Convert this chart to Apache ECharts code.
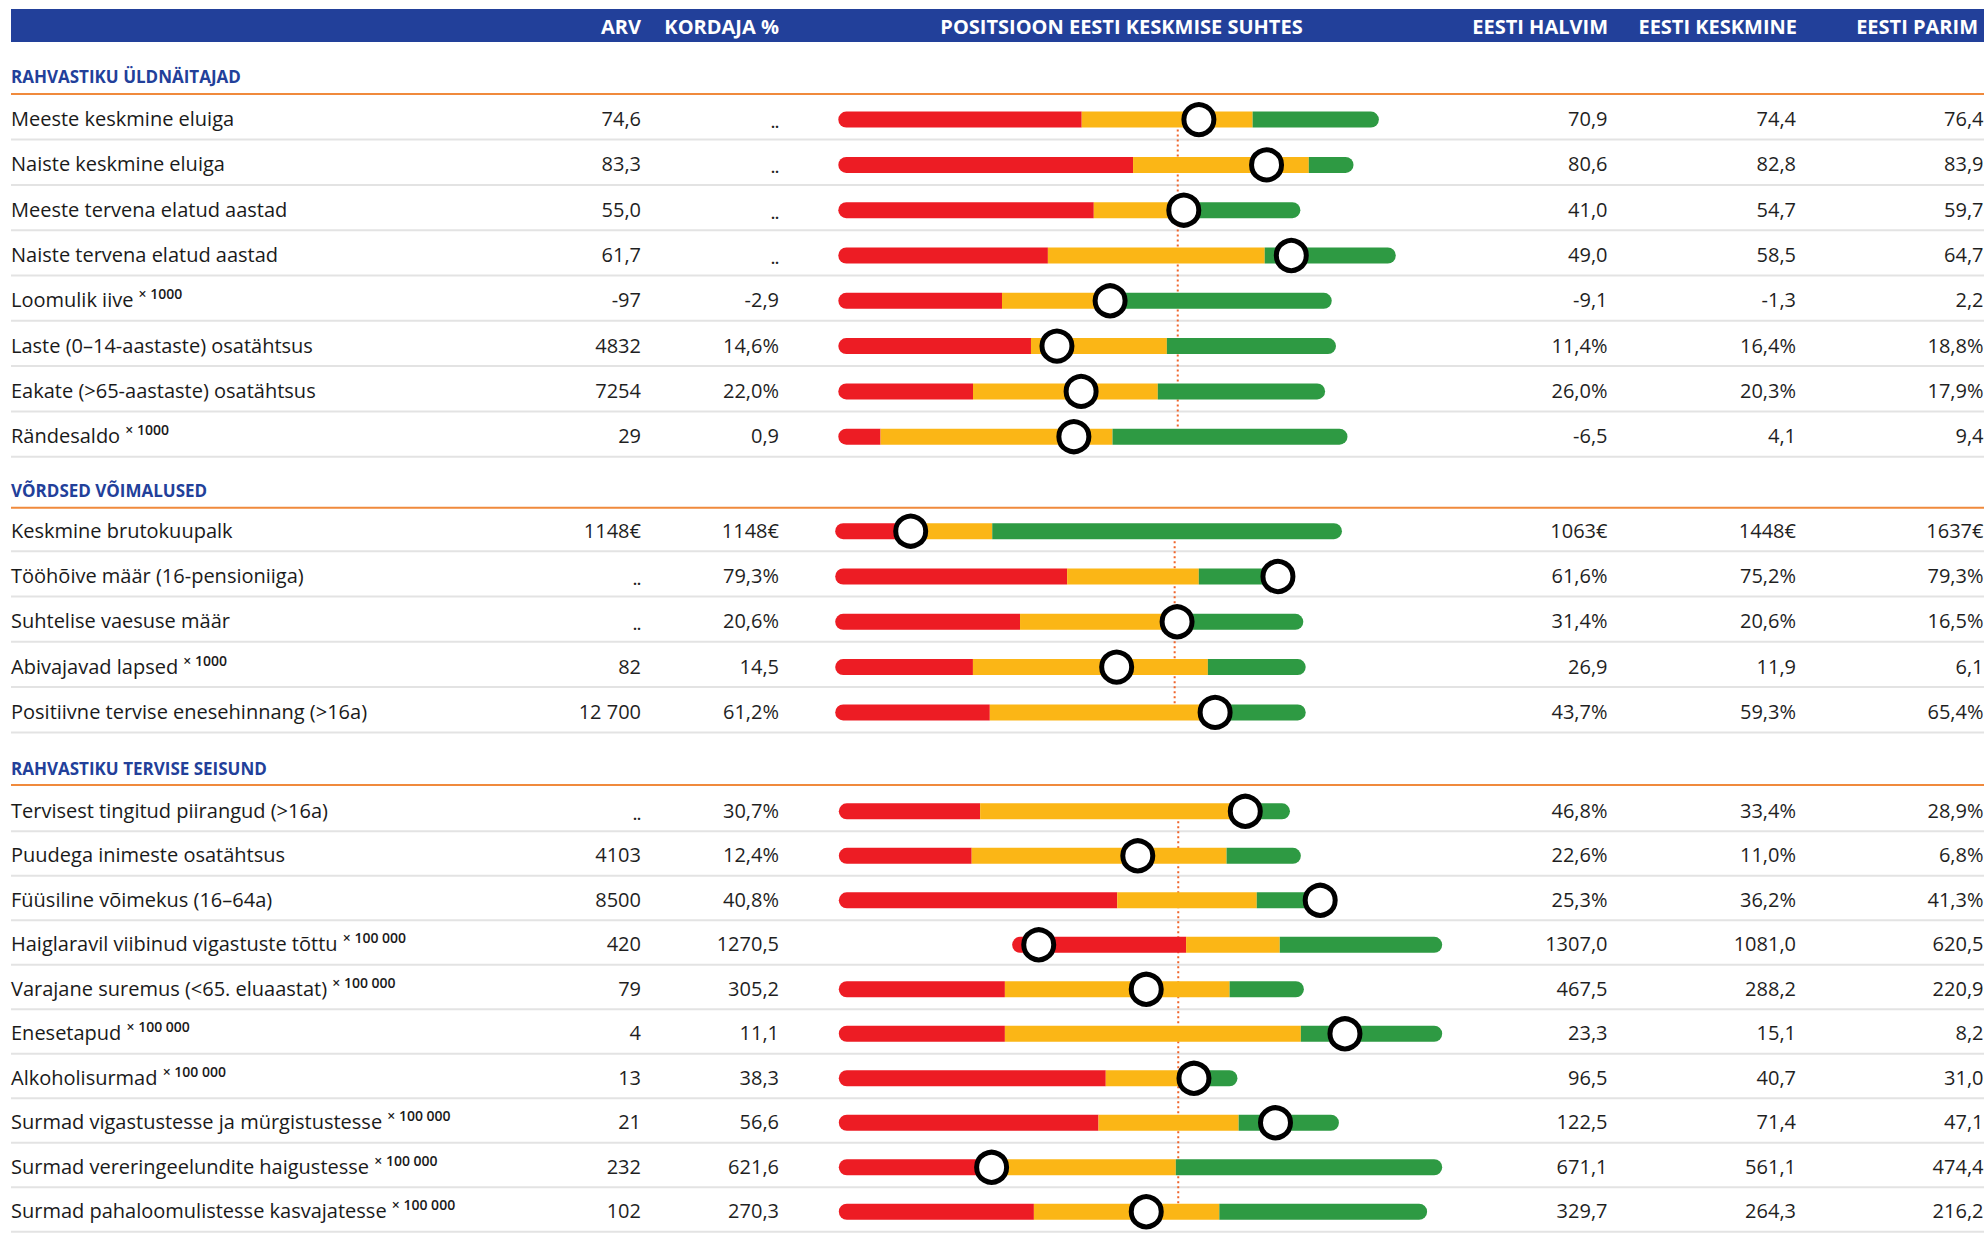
<!DOCTYPE html>
<html>
<head>
<meta charset="utf-8">
<title>Positsioon Eesti keskmise suhtes</title>
<script src="https://cdn.jsdelivr.net/npm/echarts/dist/echarts.min.js"></script>
<style>
  html, body { margin: 0; padding: 0; background: #fff; }
  #chart { width: 1986px; height: 1234px; }
</style>
</head>
<body>
<div id="chart"></div>
<script>
// ---- data ----
const sectionTitles = ['RAHVASTIKU ÜLDNÄITAJAD', 'VÕRDSED VÕIMALUSED', 'RAHVASTIKU TERVISE SEISUND'];
const sectionSizes = [8, 5, 10];

const labels = [
  'Meeste keskmine eluiga', 'Naiste keskmine eluiga', 'Meeste tervena elatud aastad',
  'Naiste tervena elatud aastad', 'Loomulik iive', 'Laste (0–14-aastaste) osatähtsus',
  'Eakate (>65-aastaste) osatähtsus', 'Rändesaldo',
  'Keskmine brutokuupalk', 'Tööhõive määr (16-pensioniiga)', 'Suhtelise vaesuse määr',
  'Abivajavad lapsed', 'Positiivne tervise enesehinnang (>16a)',
  'Tervisest tingitud piirangud (>16a)', 'Puudega inimeste osatähtsus', 'Füüsiline võimekus (16–64a)',
  'Haiglaravil viibinud vigastuste tõttu', 'Varajane suremus (<65. eluaastat)', 'Enesetapud',
  'Alkoholisurmad', 'Surmad vigastustesse ja mürgistustesse', 'Surmad vereringeelundite haigustesse',
  'Surmad pahaloomulistesse kasvajatesse'
];
const units = [
  '', '', '', '', '× 1000', '', '', '× 1000',
  '', '', '', '× 1000', '',
  '', '', '', '× 100 000', '× 100 000', '× 100 000', '× 100 000', '× 100 000', '× 100 000', '× 100 000'
];
const arv = ['74,6', '83,3', '55,0', '61,7', '-97', '4832', '7254', '29',
  '1148€', '..', '..', '82', '12 700',
  '..', '4103', '8500', '420', '79', '4', '13', '21', '232', '102'];
const kordaja = ['..', '..', '..', '..', '-2,9', '14,6%', '22,0%', '0,9',
  '1148€', '79,3%', '20,6%', '14,5', '61,2%',
  '30,7%', '12,4%', '40,8%', '1270,5', '305,2', '11,1', '38,3', '56,6', '621,6', '270,3'];
const halvim = ['70,9', '80,6', '41,0', '49,0', '-9,1', '11,4%', '26,0%', '-6,5',
  '1063€', '61,6%', '31,4%', '26,9', '43,7%',
  '46,8%', '22,6%', '25,3%', '1307,0', '467,5', '23,3', '96,5', '122,5', '671,1', '329,7'];
const keskmine = ['74,4', '82,8', '54,7', '58,5', '-1,3', '16,4%', '20,3%', '4,1',
  '1448€', '75,2%', '20,6%', '11,9', '59,3%',
  '33,4%', '11,0%', '36,2%', '1081,0', '288,2', '15,1', '40,7', '71,4', '561,1', '264,3'];
const parim = ['76,4', '83,9', '59,7', '64,7', '2,2', '18,8%', '17,9%', '9,4',
  '1637€', '79,3%', '16,5%', '6,1', '65,4%',
  '28,9%', '6,8%', '41,3%', '620,5', '220,9', '8,2', '31,0', '47,1', '474,4', '216,2'];

// positions on the relative scale (0–100)
const barStart  = [0, 0, 0, 0, 0, 0, 0, 0,  0, 0, 0, 0, 0,  0, 0, 0, 28.7, 0, 0, 0, 0, 0, 0];
const redEnd    = [40.3, 48.8, 42.3, 34.7, 27.1, 31.9, 22.3, 7.0,  10.7, 38.4, 30.6, 22.8, 25.6,
                   23.4, 22.0, 46.1, 57.5, 27.5, 27.5, 44.2, 43.0, 25.4, 32.3];
const yellowEnd = [68.6, 77.9, 57.4, 70.6, 45.0, 54.4, 52.9, 45.4,  26.0, 60.2, 56.6, 61.7, 60.7,
                   67.3, 64.2, 69.2, 73.0, 64.7, 76.5, 58.1, 66.2, 55.8, 63.0];
const greenEnd  = [89.5, 85.3, 76.5, 92.3, 81.7, 82.4, 80.6, 84.3,  83.9, 72.8, 77.5, 77.9, 77.9,
                   74.7, 76.5, 79.5, 99.9, 77.0, 99.9, 66.0, 82.8, 99.9, 97.4];
const position  = [59.7, 70.9, 57.2, 75.0, 45.0, 36.2, 40.2, 39.0,  12.5, 73.3, 56.6, 46.6, 62.9,
                   67.3, 49.5, 79.7, 33.1, 50.9, 83.8, 58.8, 72.3, 25.3, 50.9];
const averageLine = 56.2;

// ---- layout ----
const RED = '#ed1c24', YELLOW = '#fbb616', GREEN = '#2e9a43', BLUE = '#22409a', ORANGE = '#f08a3c';
const FONT = '"Open Sans", "Noto Sans", sans-serif';
const gridLeft = [838.3, 835.2, 838.8];
const firstRowY = [119.6, 531.2, 811.7];
const rowH = 45.3;
const scaleW = 604;
const titleY = [76, 490.7, 768.3];
const ruleY = [94, 507.7, 785];
const col = { label: 11, arv: 641, kordaja: 779, halvim: 1607.5, keskmine: 1796, parim: 1983.5 };

const chart = echarts.init(document.getElementById('chart'), null, { renderer: 'svg' });

const grid = [], xAxis = [], yAxis = [], series = [];
let offset = 0;

sectionSizes.forEach((n, s) => {
  const idx = Array.from({ length: n }, (_, k) => offset + k);
  grid.push({ left: gridLeft[s], top: firstRowY[s] - rowH / 2, width: scaleW, height: rowH * n });
  xAxis.push({ gridIndex: s, type: 'value', min: 0, max: 100, show: false });
  yAxis.push({ gridIndex: s, type: 'category', inverse: true, show: false, data: idx.map(i => labels[i]) });

  const bar = { type: 'bar', xAxisIndex: s, yAxisIndex: s, stack: 'pos' + s, barWidth: 16, silent: true, z: 3 };
  series.push({ ...bar, data: idx.map(i => barStart[i]), itemStyle: { color: 'transparent' } });
  series.push({ ...bar, data: idx.map(i => +(redEnd[i] - barStart[i]).toFixed(2)),
    itemStyle: { color: RED, borderRadius: [8, 0, 0, 8] } });
  series.push({ ...bar, data: idx.map(i => +(yellowEnd[i] - redEnd[i]).toFixed(2)),
    itemStyle: { color: YELLOW } });
  series.push({ ...bar, data: idx.map(i => +(greenEnd[i] - yellowEnd[i]).toFixed(2)),
    itemStyle: { color: GREEN, borderRadius: [0, 8, 8, 0] } });

  // Eesti keskmine
  series.push({
    type: 'line', xAxisIndex: s, yAxisIndex: s, silent: true, z: 2,
    symbol: 'none', data: [[averageLine, 0], [averageLine, n - 1]],
    lineStyle: { color: '#f0642a', width: 2, type: [2, 3] }
  });

  // omavalitsuse positsioon
  series.push({
    type: 'scatter', xAxisIndex: s, yAxisIndex: s, silent: true, z: 5,
    symbol: 'circle', symbolSize: 30,
    data: idx.map((i, k) => [position[i], k]),
    itemStyle: { color: '#fff', borderColor: '#000', borderWidth: 5, opacity: 1 }
  });

  // table texts and row rules
  series.push({
    type: 'custom', xAxisIndex: s, yAxisIndex: s, silent: true, z: 1,
    data: idx.map((i, k) => [0, k]),
    renderItem: (params, api) => {
      const i = idx[params.dataIndex];
      const y = api.coord([0, params.dataIndex])[1];
      const ty = y - 1;
      const num = (x, t) => ({
        type: 'text', x: x, y: t === '..' ? ty + 4 : ty,
        style: { text: t, fill: '#1f1f1f', font: (t === '..' ? 'bold 14px ' : '20px ') + FONT,
          align: 'right', verticalAlign: 'middle' }
      });
      const labelText = units[i] ? '{m|' + labels[i] + ' }{s|' + units[i] + '}' : '{m|' + labels[i] + '}';
      return {
        type: 'group',
        children: [
          { type: 'line', shape: { x1: col.label, y1: y + 20, x2: 1984, y2: y + 20 },
            style: { stroke: '#e3e3e3', lineWidth: 2 } },
          { type: 'text', x: col.label, y: ty,
            style: {
              text: labelText, align: 'left', verticalAlign: 'middle',
              rich: {
                m: { fontSize: 20, fontFamily: FONT, fill: '#1a1a1a', lineHeight: 26 },
                s: { fontSize: 14, fontFamily: FONT, fontWeight: 600, fill: '#1a1a1a',
                  lineHeight: 18, verticalAlign: 'top' }
              }
            } },
          num(col.arv, arv[i]),
          num(col.kordaja, kordaja[i]),
          num(col.halvim, halvim[i]),
          num(col.keskmine, keskmine[i]),
          num(col.parim, parim[i])
        ]
      };
    }
  });

  offset += n;
});

// header band, section titles and orange rules
const headerFont = 'bold 20px ' + FONT;
const head = (x, text, align) => ({
  type: 'text', x: x, y: 26, z: 10,
  style: { text: text, fill: '#fff', font: headerFont, align: align, verticalAlign: 'middle' }
});
const graphic = [
  { type: 'rect', shape: { x: 11, y: 9, width: 1973, height: 33 }, style: { fill: BLUE }, z: 9 },
  head(641, 'ARV', 'right'),
  head(779, 'KORDAJA %', 'right'),
  head(1121.5, 'POSITSIOON EESTI KESKMISE SUHTES', 'center'),
  head(1608, 'EESTI HALVIM', 'right'),
  head(1797, 'EESTI KESKMINE', 'right'),
  head(1978, 'EESTI PARIM', 'right')
];
sectionTitles.forEach((t, s) => {
  graphic.push({ type: 'text', x: col.label, y: titleY[s],
    style: { text: t, fill: BLUE, font: 'bold 17px ' + FONT, align: 'left', verticalAlign: 'middle' } });
  graphic.push({ type: 'line', shape: { x1: col.label, y1: ruleY[s], x2: 1984, y2: ruleY[s] },
    style: { stroke: ORANGE, lineWidth: 2 } });
});

chart.setOption({
  backgroundColor: '#fff',
  animation: false,
  grid: grid,
  xAxis: xAxis,
  yAxis: yAxis,
  graphic: graphic,
  series: series
});

window.addEventListener('resize', () => chart.resize());
</script>
</body>
</html>
